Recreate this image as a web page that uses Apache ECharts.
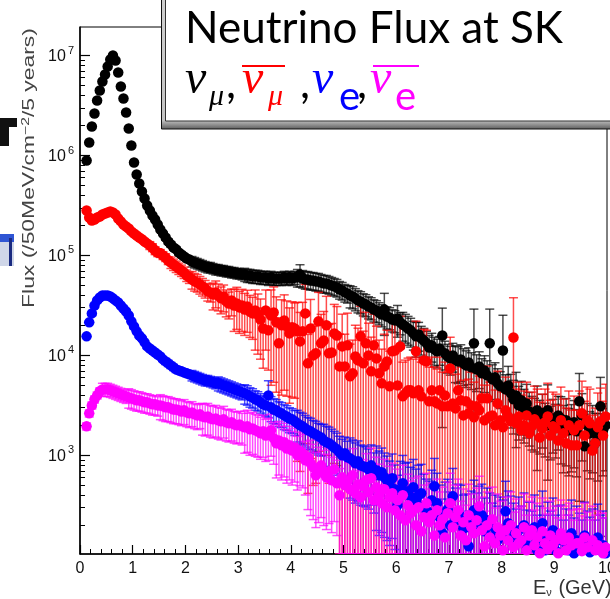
<!DOCTYPE html>
<html><head><meta charset="utf-8">
<script src="https://cdn.jsdelivr.net/npm/echarts@6.0.0/dist/echarts.min.js"></script>
<style>html,body{margin:0;padding:0;background:#fff}#c{width:610px;height:599px}</style>
</head><body><div id="c"></div>
<script>
// Bin centres (GeV), 50 MeV bins
const energy = [
0.125,0.175,0.225,0.275,0.325,0.375,0.425,0.475,0.525,0.575,
0.625,0.675,0.725,0.775,0.825,0.875,0.925,0.975,1.025,1.075,
1.125,1.175,1.225,1.275,1.325,1.375,1.425,1.475,1.525,1.575,
1.625,1.675,1.725,1.775,1.825,1.875,1.925,1.975,2.025,2.075,
2.125,2.175,2.225,2.275,2.325,2.375,2.425,2.475,2.525,2.575,
2.625,2.675,2.725,2.775,2.825,2.875,2.925,2.975,3.025,3.075,
3.125,3.175,3.225,3.275,3.325,3.375,3.425,3.475,3.525,3.575,
3.625,3.675,3.725,3.775,3.825,3.875,3.925,3.975,4.025,4.075,
4.125,4.175,4.225,4.275,4.325,4.375,4.425,4.475,4.525,4.575,
4.625,4.675,4.725,4.775,4.825,4.875,4.925,4.975,5.025,5.075,
5.125,5.175,5.225,5.275,5.325,5.375,5.425,5.475,5.525,5.575,
5.625,5.675,5.725,5.775,5.825,5.875,5.925,5.975,6.025,6.075,
6.125,6.175,6.225,6.275,6.325,6.375,6.425,6.475,6.525,6.575,
6.625,6.675,6.725,6.775,6.825,6.875,6.925,6.975,7.025,7.075,
7.125,7.175,7.225,7.275,7.325,7.375,7.425,7.475,7.525,7.575,
7.625,7.675,7.725,7.775,7.825,7.875,7.925,7.975,8.025,8.075,
8.125,8.175,8.225,8.275,8.325,8.375,8.425,8.475,8.525,8.575,
8.625,8.675,8.725,8.775,8.825,8.875,8.925,8.975,9.025,9.075,
9.125,9.175,9.225,9.275,9.325,9.375,9.425,9.475,9.525,9.575,
9.625,9.675,9.725,9.775,9.825,9.875,9.925,9.975];

// nu_mu flux (black)
const numu = [
8.9e5,1.35e6,1.95e6,2.63e6,3.55e6,4.47e6,5.5e6,6.46e6,7.76e6,9.12e6,
1.0e7,8.91e6,6.76e6,4.9e6,3.72e6,2.69e6,1.86e6,1.26e6,8.51e5,6.46e5,
5.25e5,4.37e5,3.72e5,3.16e5,2.82e5,2.51e5,2.29e5,2.04e5,1.82e5,1.66e5,
1.51e5,1.38e5,1.29e5,1.2e5,1.15e5,1.07e5,1.02e5,9.77e4,9.33e4,9.12e4,
8.71e4,8.51e4,8.32e4,8.13e4,7.94e4,7.76e4,7.59e4,7.59e4,7.41e4,7.24e4,
7.24e4,7.08e4,7.08e4,6.92e4,6.92e4,6.76e4,6.76e4,6.61e4,6.61e4,6.46e4,
6.46e4,6.31e4,6.31e4,6.17e4,6.17e4,6.17e4,6.03e4,6.03e4,6.03e4,5.89e4,
6.03e4,5.89e4,5.89e4,5.89e4,5.89e4,6.03e4,5.89e4,6.03e4,5.89e4,6.03e4,
6.03e4,6.46e4,5.89e4,5.75e4,5.75e4,5.62e4,5.62e4,5.5e4,5.5e4,5.37e4,
5.25e4,5.25e4,5.13e4,5.01e4,4.9e4,4.79e4,4.57e4,4.47e4,4.27e4,4.17e4,
3.98e4,3.89e4,3.72e4,3.55e4,3.47e4,3.31e4,3.24e4,3.09e4,3.02e4,2.88e4,
2.82e4,2.69e4,2.57e4,2.88e4,2.45e4,2.4e4,2.29e4,2.24e4,2.34e4,2.14e4,
2.04e4,1.95e4,1.86e4,1.78e4,1.66e4,1.55e4,1.62e4,1.48e4,1.41e4,1.32e4,
1.2e4,1.26e4,1.15e4,1.1e4,1.17e4,1.58e4,1.05e4,9.77e3,9.33e3,1.0e4,
8.91e3,8.71e3,9.12e3,8.32e3,7.94e3,8.51e3,7.59e3,1.32e4,7.24e3,7.76e3,
6.61e3,7.08e3,6.31e3,1.32e4,5.75e3,6.03e3,5.25e3,4.9e3,1.12e4,4.57e3,
5.01e3,4.17e3,3.63e3,3.98e3,3.16e3,3.55e3,2.95e3,3.31e3,2.75e3,2.51e3,
2.4e3,2.82e3,2.29e3,2.63e3,2.14e3,2.82e3,2.0e3,2.34e3,2.09e3,2.51e3,
2.34e3,1.91e3,2.24e3,1.78e3,1.95e3,2.14e3,1.74e3,3.47e3,2.51e3,1.23e3,
2.0e3,1.66e3,1.91e3,1.32e3,1.58e3,3.09e3,1.78e3,2.0e3];
const numuErrPct = [
1,1,1,1,1,1,1,1,1,1, 1,1,1,1,1,1,1,1,1,1,
2,2,2,2,2,2,2,2,2,2, 6,6,6,6,6,6,6,6,6,6,
12,12,12,12,12,12,12,12,12,12, 12,12,12,12,12,12,12,12,12,12,
15,15,15,15,15,15,15,15,15,15, 15,15,15,15,15,15,15,15,15,15,
20,25,20,20,20,20,20,20,20,20, 20,20,20,20,20,20,20,20,20,20,
25,25,25,25,25,25,25,25,25,25, 25,25,25,45,25,25,25,25,35,25,
32,32,32,32,32,38,32,32,32,32, 32,32,32,32,32,88,32,32,32,32,
40,40,40,40,40,40,40,120,40,40, 40,40,40,120,40,40,40,40,125,40,
55,55,55,70,55,55,55,55,55,55, 55,75,55,55,55,80,55,55,55,55,
65,65,65,65,65,65,65,90,65,110, 65,65,65,100,65,95,65,65];

// anti-nu_mu flux (red)
const numubar = [
2.82e5,2.4e5,2.24e5,2.29e5,2.4e5,2.45e5,2.57e5,2.63e5,2.69e5,2.75e5,
2.69e5,2.57e5,2.34e5,2.19e5,2.04e5,1.95e5,1.86e5,1.74e5,1.66e5,1.58e5,
1.51e5,1.45e5,1.38e5,1.32e5,1.26e5,1.2e5,1.12e5,1.07e5,1.05e5,1.0e5,
9.55e4,8.91e4,8.51e4,8.13e4,7.76e4,7.41e4,7.08e4,6.76e4,6.31e4,6.03e4,
5.75e4,5.5e4,5.37e4,5.13e4,4.9e4,4.68e4,4.37e4,4.27e4,4.07e4,4.27e4,
3.98e4,3.72e4,3.89e4,3.47e4,3.31e4,3.55e4,3.16e4,3.31e4,3.02e4,3.16e4,
2.88e4,3.09e4,2.75e4,2.63e4,2.82e4,2.57e4,2.29e4,1.86e4,2.82e4,1.78e4,
2.51e4,2.69e4,2.14e4,1.32e4,2.0e4,2.24e4,1.95e4,1.66e4,1.91e4,1.86e4,
1.74e4,1.38e4,1.74e4,2.63e4,8.32e3,1.86e4,1.0e4,1.05e4,2.19e4,1.32e4,
1.41e4,2.0e4,1.05e4,1.07e4,1.66e4,1.58e4,7.76e3,1.23e4,7.76e3,1.26e4,
6.17e3,6.61e3,9.77e3,8.91e3,1.55e4,8.32e3,1.32e4,1.0e4,6.92e3,1.26e4,
9.33e3,6.61e3,5.25e3,7.76e3,8.71e3,4.9e3,1.1e4,1.12e4,5.01e3,1.23e4,
3.89e3,4.17e3,4.47e3,4.47e3,4.17e3,1.1e4,4.47e3,3.89e3,8.91e3,8.71e3,
3.47e3,4.47e3,3.47e3,3.31e3,4.47e3,3.09e3,3.98e3,3.09e3,7.41e3,3.31e3,
2.95e3,4.47e3,3.55e3,2.51e3,3.47e3,2.63e3,3.16e3,2.4e3,3.09e3,2.82e3,
3.72e3,2.24e3,3.72e3,2.45e3,2.51e3,2.0e3,3.31e3,2.24e3,1.91e3,2.82e3,
2.45e3,2.19e3,1.51e4,2.09e3,2.45e3,1.78e3,2.0e3,2.51e3,1.66e3,1.95e3,
2.29e3,2.09e3,1.51e3,1.86e3,2.14e3,2.45e3,1.58e3,1.95e3,1.86e3,1.41e3,
2.24e3,1.66e3,1.32e3,2.0e3,1.26e3,1.78e3,1.26e3,2.0e3,2.63e3,1.58e3,
2.24e3,2.09e3,1.12e3,1.32e3,1.91e3,2.19e3,1.58e3,2.45e3];
const numubarErrPct = [
2,2,2,2,2,2,2,2,2,2, 2,2,2,2,2,2,5,5,5,5,
5,5,5,5,9,9,9,9,9,9, 9,9,13,13,13,13,13,13,13,13,
20,20,20,20,20,20,20,20,30,30, 30,30,30,30,30,30,45,45,45,45,
45,45,45,45,60,60,60,60,60,60, 80,80,80,80,80,80,80,80,80,80,
95,95,95,95,95,95,95,95,95,95, 95,95,95,95,95,95,110,110,110,110,
110,115,105,110,100,110,105,110,120,105, 110,115,120,110,105,125,105,100,120,100,
120,115,110,115,120,100,115,120,105,105, 120,115,120,120,115,120,115,120,105,120,
120,110,115,125,115,120,115,125,115,120, 110,125,110,120,120,125,110,120,125,115,
120,120,150,120,120,125,120,115,125,120, 115,120,125,120,115,115,125,120,120,125,
115,120,125,120,125,120,125,120,110,120, 115,120,125,125,120,115,120,110];

// nu_e flux (blue)
const nue = [
1.55e4,2.14e4,2.63e4,3.16e4,3.55e4,3.8e4,3.98e4,3.98e4,3.98e4,3.89e4,
3.72e4,3.55e4,3.39e4,3.16e4,2.95e4,2.75e4,2.51e4,2.19e4,1.95e4,1.74e4,
1.58e4,1.48e4,1.35e4,1.23e4,1.17e4,1.12e4,1.07e4,1.02e4,9.77e3,9.12e3,
8.71e3,8.32e3,7.94e3,7.59e3,7.24e3,7.08e3,6.92e3,6.76e3,6.61e3,6.46e3,
6.31e3,6.17e3,6.03e3,5.89e3,5.75e3,5.62e3,5.62e3,5.5e3,5.37e3,5.25e3,
5.25e3,5.13e3,5.01e3,4.9e3,4.79e3,4.68e3,4.57e3,4.47e3,4.37e3,4.27e3,
4.17e3,4.07e3,3.89e3,3.8e3,3.63e3,3.55e3,3.39e3,3.24e3,3.16e3,3.98e3,
3.02e3,2.88e3,2.82e3,2.69e3,2.63e3,2.51e3,2.45e3,2.34e3,2.29e3,2.19e3,
2.09e3,2.0e3,1.95e3,1.86e3,1.78e3,1.74e3,1.66e3,1.62e3,1.55e3,1.51e3,
1.41e3,1.35e3,1.32e3,1.26e3,1.2e3,1.15e3,1.07e3,1.0e3,1.05e3,955,
933,891,832,871,794,776,759,724,794,661,
708,631,676,603,562,501,589,457,316,447,
525,417,437,380,479,355,398,417,309,282,
263,355,490,331,240,166,263,288,200,389,
224,251,245,186,191,123,214,282,200,240,
251,174,224,200,151,186,141,178,166,275,
209,182,151,132,178,141,200,126,158,123,
191,112,141,209,112,158,126,178,112,141,
148,100,132,112,166,105,141,120,100,158,
126,107,132,100,151,112,126,105];
const nueErrPct = [
2,2,2,2,2,2,2,2,2,2, 2,2,2,2,2,2,2,2,2,2,
4,4,4,4,4,4,4,4,4,4, 7,7,7,7,7,7,7,7,7,7,
12,12,12,12,12,12,12,12,12,12, 16,16,16,16,16,16,16,16,16,16,
22,22,22,22,22,22,22,22,22,40, 28,28,28,28,28,28,28,28,28,28,
35,35,35,35,35,35,35,35,35,35, 45,45,45,45,45,45,45,45,45,45,
60,60,60,60,60,60,60,60,60,60, 75,75,75,75,75,75,75,75,100,95,
90,100,95,100,90,105,100,95,110,105, 110,100,90,100,110,120,105,100,115,90,
110,105,105,115,115,125,105,100,110,105, 105,115,110,110,120,115,120,115,115,100,
110,115,120,120,115,120,110,125,115,125, 110,125,120,110,125,115,120,110,125,120,
115,125,120,125,115,125,120,120,125,115, 120,125,120,125,115,125,120,125];

// anti-nu_e flux (magenta)
const nuebar = [
1.95e3,2.63e3,3.16e3,3.63e3,3.98e3,4.37e3,4.57e3,4.57e3,4.57e3,4.47e3,
4.37e3,4.27e3,4.17e3,4.07e3,3.98e3,3.89e3,3.8e3,3.72e3,3.63e3,3.55e3,
3.55e3,3.47e3,3.39e3,3.39e3,3.31e3,3.24e3,3.24e3,3.16e3,3.16e3,3.09e3,
3.02e3,3.02e3,2.95e3,2.88e3,2.88e3,2.82e3,2.75e3,2.82e3,2.69e3,2.63e3,
2.69e3,2.57e3,2.51e3,2.57e3,2.45e3,2.4e3,2.45e3,2.34e3,2.29e3,2.34e3,
2.24e3,2.19e3,2.29e3,2.14e3,2.09e3,2.14e3,2.04e3,2.0e3,2.04e3,1.95e3,
1.91e3,1.95e3,1.82e3,1.86e3,1.78e3,1.74e3,1.66e3,1.74e3,1.58e3,1.62e3,
1.78e3,1.48e3,1.32e3,1.41e3,1.26e3,1.35e3,1.17e3,1.26e3,1.12e3,1.2e3,
1.0e3,1.1e3,1.05e3,891,955,832,759,631,708,794,
661,603,692,562,724,525,398,603,501,550,
457,631,417,513,380,490,562,427,589,355,
479,398,331,457,302,380,417,282,355,251,
398,224,316,263,282,200,302,174,240,331,
214,251,158,282,200,229,151,263,331,191,
240,282,158,214,141,251,191,166,224,309,
178,123,200,151,229,132,191,158,112,178,
141,200,120,166,132,141,191,112,158,178,
126,151,105,174,132,115,158,126,141,105,
166,141,112,151,126,100,132,132,110,151,
120,100,141,112,126,117,105,120];
const nuebarErrPct = [
8,8,8,8,8,8,15,15,15,15, 15,15,15,15,15,15,22,22,22,22,
22,22,22,22,22,22,22,22,28,28, 28,28,28,28,28,28,28,28,28,28,
28,28,28,28,35,35,35,35,35,35, 35,35,35,35,35,35,35,35,35,35,
45,45,45,45,45,45,45,45,45,45, 45,45,55,55,55,55,55,55,55,55,
55,55,55,55,70,70,70,70,70,70, 70,70,70,70,70,70,85,85,85,85,
85,85,85,85,85,85,85,85,100,110, 100,105,110,100,115,105,100,115,105,120,
100,115,105,110,110,120,105,125,110,100, 115,110,125,105,115,110,120,105,100,115,
110,105,120,115,125,105,115,120,110,100, 115,125,115,120,110,125,115,120,125,115,
120,115,125,120,125,120,115,125,120,115, 125,120,125,115,125,125,120,125,120,125,
115,120,125,120,125,125,120,120,125,120, 125,125,120,125,120,125,125,120];

// Axis ticks
const yMajorTicks = [1e3, 1e4, 1e5, 1e6, 1e7];
const yMinorTicks = [200,300,400,500,600,700,800,900,
  2000,3000,4000,5000,6000,7000,8000,9000,
  2e4,3e4,4e4,5e4,6e4,7e4,8e4,9e4,
  2e5,3e5,4e5,5e5,6e5,7e5,8e5,9e5,
  2e6,3e6,4e6,5e6,6e6,7e6,8e6,9e6];
const xTickLabels = ['0','1','2','3','4','5','6','7','8','9','10'];

const yMin = 103, yMax = 1.93e7;
const AXF = "'Liberation Sans Narrow','Liberation Sans',Arial,sans-serif";

function errSeries(vals, pct, color) {
  const data = energy.map((e, i) => {
    const d = vals[i] * pct[i] / 100;
    return [e, Math.max(vals[i] - d, yMin), vals[i] + d];
  });
  return {
    type: 'custom', data: data, clip: true, silent: true,
    encode: {x: 0, y: [1, 2]},
    renderItem: function (params, api) {
      const x = api.value(0);
      const p0 = api.coord([x, api.value(1)]);
      const p1 = api.coord([x, api.value(2)]);
      const cw = 4.5;
      const st = {stroke: color, lineWidth: 1.5};
      return {type: 'group', children: [
        {type: 'line', shape: {x1: p0[0], y1: p0[1], x2: p1[0], y2: p1[1]}, style: st},
        {type: 'line', shape: {x1: p0[0]-cw, y1: p0[1], x2: p0[0]+cw, y2: p0[1]}, style: st},
        {type: 'line', shape: {x1: p1[0]-cw, y1: p1[1], x2: p1[0]+cw, y2: p1[1]}, style: st}
      ]};
    }
  };
}
function ptSeries(vals, color) {
  return {
    type: 'scatter', data: energy.map((e, i) => [e, vals[i]]),
    symbol: 'circle', symbolSize: 10.5, clip: true, silent: true,
    itemStyle: {color: color, opacity: 1}
  };
}

const chart = echarts.init(document.getElementById('c'), null, {renderer: 'canvas'});
const nuFont = "'Liberation Serif','DejaVu Serif',serif";
const titleFont = "Lato,'Open Sans',sans-serif";
function glyph(txt, x, y, size, fam, color, italic) {
  return {type: 'text', z: 110, x: x, y: y, style: {text: txt, fontSize: size, fontFamily: fam,
    fontStyle: italic ? 'italic' : 'normal', fill: color, align: 'left', verticalAlign: 'middle'}};
}

chart.setOption({
  animation: false,
  backgroundColor: '#ffffff',
  grid: {left: 80, right: 3, top: 27, bottom: 45, show: true, borderColor: '#000', borderWidth: 1,
         backgroundColor: 'transparent', containLabel: false, outerBoundsMode: 'none'},
  xAxis: {
    type: 'value', min: 0, max: 10, interval: 1,
    axisLine: {show: true, lineStyle: {color: '#000', width: 1.5}},
    axisTick: {show: true, inside: true, length: 9, lineStyle: {color: '#000', width: 1.2}},
    minorTick: {show: true, splitNumber: 5, length: 5, lineStyle: {color: '#000', width: 1}},
    axisLabel: {margin: 7, fontSize: 16, color: '#111', fontFamily: AXF, hideOverlap: false,
      showMinLabel: true, showMaxLabel: true,
      formatter: function (v) { return xTickLabels[Math.round(v)]; }},
    splitLine: {show: false}
  },
  yAxis: [{
    type: 'log', logBase: 10, min: yMin, max: yMax, position: 'left',
    axisLine: {show: true, lineStyle: {color: '#000', width: 1.5}},
    axisTick: {show: true, inside: true, length: 10, customValues: yMajorTicks, lineStyle: {color: '#000', width: 1.2}},
    axisLabel: {customValues: yMajorTicks, margin: 6, color: '#111', fontFamily: AXF, fontSize: 16,
      formatter: function (v) { return '{b|10}{s|' + Math.round(Math.log10(v)) + '}'; },
      rich: {b: {fontSize: 16, fontFamily: AXF, color: '#111', padding: [3, 0, 0, 0]},
             s: {fontSize: 11, fontFamily: AXF, color: '#111', padding: [0, 0, 10, 2]}}},
    splitLine: {show: false}, minorTick: {show: false}
  }, {
    type: 'log', logBase: 10, min: yMin, max: yMax, position: 'left',
    axisLine: {show: false},
    axisTick: {show: true, inside: true, length: 5, customValues: yMinorTicks, lineStyle: {color: '#000', width: 1}},
    axisLabel: {show: false}, splitLine: {show: false}
  }],
  series: [
    errSeries(numu, numuErrPct, 'rgba(0,0,0,0.7)'), ptSeries(numu, '#000000'),
    errSeries(numubar, numubarErrPct, 'rgba(255,0,0,0.7)'), ptSeries(numubar, '#ff0000'),
    errSeries(nue, nueErrPct, 'rgba(0,0,255,0.7)'), ptSeries(nue, '#0000ff'),
    errSeries(nuebar, nuebarErrPct, 'rgba(255,0,255,0.7)'), ptSeries(nuebar, '#ff00ff')
  ],
  graphic: [
    // slide background fragments at far left
    {type: 'rect', z: 5, shape: {x: 0, y: 118, width: 17, height: 9}, style: {fill: '#111'}},
    {type: 'rect', z: 5, shape: {x: 0, y: 118, width: 9, height: 28}, style: {fill: '#111'}},
    {type: 'rect', z: 5, shape: {x: 0, y: 234, width: 14, height: 8}, style: {fill: '#2f55d4'}},
    {type: 'rect', z: 5, shape: {x: 0, y: 242, width: 14, height: 24}, style: {fill: '#cfd6e8'}},
    {type: 'rect', z: 5, shape: {x: 9, y: 238, width: 3, height: 28}, style: {fill: '#1a2a80'}},
    // axis titles
    {type: 'text', z: 20, x: 30, y: 168, rotation: Math.PI / 2, scaleX: 1.43,
     style: {text: 'Flux (/50MeV/cm{s|\u22122}/5 years)', fontSize: 16, fontFamily: 'Liberation Sans', fill: '#444',
       align: 'center', verticalAlign: 'middle',
       rich: {s: {fontSize: 11, fontFamily: 'Liberation Sans', fill: '#444', padding: [0, 0, 9, 0]}}}},
    {type: 'text', z: 20, x: 533, y: 588,
     style: {text: 'E{s|\u03bd} (GeV)', fontSize: 20, fontFamily: AXF, fill: '#333', align: 'left', verticalAlign: 'middle',
       rich: {s: {fontSize: 11, fontFamily: AXF, fill: '#333', padding: [9, 1, 0, 0]}}}},
    // title box
    {type: 'rect', z: 100, shape: {x: 161.5, y: -5, width: 460, height: 134},
     style: {fill: {type: 'linear', x: 0, y: 0, x2: 0, y2: 1, colorStops: [
       {offset: 0, color: '#cfcfcf'}, {offset: 0.93, color: '#c4c4c4'}, {offset: 1, color: '#5a5a5a'}]},
       stroke: '#111', lineWidth: 1}},
    {type: 'rect', z: 101, shape: {x: 165.5, y: -5, width: 460, height: 126},
     style: {fill: '#ffffff', stroke: '#333', lineWidth: 1}},
    {type: 'text', z: 110, x: 185, y: 29, style: {text: 'Neutrino Flux at SK', fontSize: 44, fontFamily: titleFont,
       fill: '#000', align: 'left', verticalAlign: 'middle'}},
    glyph('\u03bd', 185, 80, 48, nuFont, '#000', true),
    glyph('\u03bc', 209, 97, 30, nuFont, '#000', true),
    glyph(',', 226, 84, 44, titleFont, '#000', false),
    glyph('\u03bd', 242, 80, 48, nuFont, '#ff0000', true),
    glyph('\u03bc', 268, 97, 30, nuFont, '#ff0000', true),
    {type: 'line', z: 110, shape: {x1: 242, y1: 66, x2: 285, y2: 66}, style: {stroke: '#ff0000', lineWidth: 2}},
    glyph(',', 300, 84, 44, titleFont, '#000', false),
    glyph('\u03bd', 312, 80, 48, nuFont, '#0000ff', true),
    glyph('e', 339, 97, 40, titleFont, '#0000ff', false),
    glyph(',', 357, 84, 44, titleFont, '#000', false),
    glyph('\u03bd', 370, 80, 48, nuFont, '#ff00ff', true),
    glyph('e', 395, 97, 40, titleFont, '#ff00ff', false),
    {type: 'line', z: 110, shape: {x1: 373, y1: 66, x2: 419, y2: 66}, style: {stroke: '#ff00ff', lineWidth: 2}}
  ]
});
</script>
</body></html>
